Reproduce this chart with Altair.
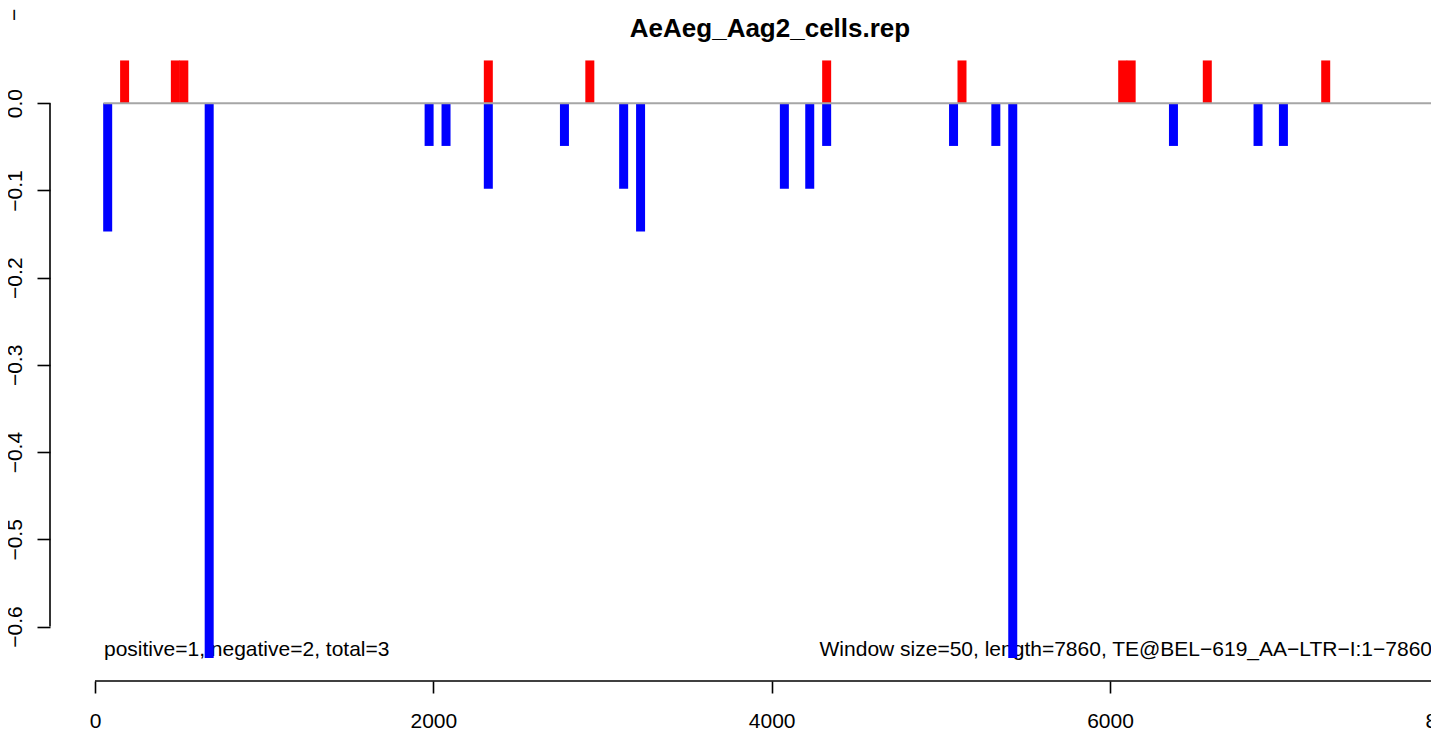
import altair as alt
import pandas as pd

# ---------------- data ----------------
title_text = "AeAeg_Aag2_cells.rep"
left_note = "positive=1, negative=2, total=3"
right_note = "Window size=50, length=7860, TE@BEL\u2212619_AA\u2212LTR\u2212I:1\u22127860"
cut_label = "\u22120.7"

pos_centers = [175, 475, 525, 2325, 2925, 4325, 5125, 6075, 6125, 6575, 7275]
pos_values = [0.049, 0.049, 0.049, 0.049, 0.049, 0.049, 0.049, 0.049, 0.049, 0.049, 0.049]

neg_centers = [75, 675, 1975, 2075, 2325, 2775, 3125, 3225, 4075, 4225, 4325,
               5075, 5325, 5425, 6375, 6875, 7025]
neg_values = [-0.147, -0.636, -0.049, -0.049, -0.098, -0.049, -0.098, -0.147, -0.098,
              -0.098, -0.049, -0.049, -0.049, -0.636, -0.049, -0.049, -0.049]

x_ticks = [0, 2000, 4000, 6000, 8000]
y_ticks = [0.0, -0.1, -0.2, -0.3, -0.4, -0.5, -0.6]
baseline_x = [50, 7900]

FONT = "Liberation Sans"
W, H = 1436, 671

bars = pd.DataFrame({
    "pos": pos_centers + neg_centers,
    "val": pos_values + neg_values,
    "sign": ["pos"] * len(pos_centers) + ["neg"] * len(neg_centers),
})
base_df = pd.DataFrame({"x": [baseline_x[0]], "x2": [baseline_x[1]]})
xaxis_df = pd.DataFrame({"x": [x_ticks[0]], "x2": [x_ticks[-1]]})
yaxis_df = pd.DataFrame({"y": [y_ticks[0]], "y2": [y_ticks[-1]]})

xscale = alt.Scale(domain=[-266, 8222.5], nice=False, zero=False)
yscale = alt.Scale(domain=[-0.66239, 0.10684], nice=False, zero=False)

xaxis = alt.Axis(values=x_ticks, format="d", domain=False, grid=False, title=None,
                 tickSize=12, tickColor="black", tickWidth=1.6,
                 labelFont=FONT, labelFontSize=21, labelColor="black",
                 labelPadding=17, labelFlush=False, labelOverlap=False)
yaxis = alt.Axis(values=y_ticks, format=".1f", domain=False, grid=False, title=None,
                 tickSize=13, tickColor="black", tickWidth=1.6,
                 labelFont=FONT, labelFontSize=21, labelColor="black",
                 labelAngle=270, labelAlign="center", labelBaseline="alphabetic",
                 labelPadding=16, labelFlush=False, labelOverlap=False)

notes = alt.Chart(pd.DataFrame({"t": [left_note]})).mark_text(
    font=FONT, fontSize=21, align="left", baseline="alphabetic", color="black"
).encode(text="t:N", x=alt.value(54), y=alt.value(645.6))

notes_r = alt.Chart(pd.DataFrame({"t": [right_note]})).mark_text(
    font=FONT, fontSize=21, align="right", baseline="alphabetic", color="black"
).encode(text="t:N", x=alt.value(1382), y=alt.value(645.6))

title = alt.Chart(pd.DataFrame({"t": [title_text]})).mark_text(
    font=FONT, fontSize=26, fontWeight="bold", align="center",
    baseline="alphabetic", color="black"
).encode(text="t:N", x=alt.value(720), y=alt.value(26.7))

cut = alt.Chart(pd.DataFrame({"t": [cut_label]})).mark_text(
    font=FONT, fontSize=21, align="center", baseline="alphabetic",
    angle=270, color="black"
).encode(text="t:N", x=alt.value(-29.3), y=alt.value(-9.7))

bar_layer = alt.Chart(bars).mark_rule(strokeWidth=9, strokeCap="butt").encode(
    x=alt.X("pos:Q", scale=xscale, axis=xaxis),
    y=alt.Y("val:Q", scale=yscale, axis=yaxis),
    y2=alt.datum(0),
    color=alt.Color("sign:N", scale=alt.Scale(domain=["pos", "neg"],
                                              range=["#ff0000", "#0000ff"]),
                    legend=None),
)

baseline = alt.Chart(base_df).mark_rule(color="#a6a6a6", strokeWidth=2).encode(
    x=alt.X("x:Q", scale=xscale), x2="x2:Q", y=alt.datum(0)
)

x_domain = alt.Chart(xaxis_df).mark_rule(color="black", strokeWidth=1.6).encode(
    x=alt.X("x:Q", scale=xscale), x2="x2:Q", y=alt.value(H)
)
y_domain = alt.Chart(yaxis_df).mark_rule(color="black", strokeWidth=1.6).encode(
    y=alt.Y("y:Q", scale=yscale), y2="y2:Q", x=alt.value(0)
)

chart = alt.layer(notes, notes_r, bar_layer, baseline, x_domain, y_domain, title, cut).properties(
    width=W, height=H,
    padding={"left": 42, "top": 2, "right": -55, "bottom": 48},
    autosize=alt.AutoSizeParams(type="none"),
    background="white",
).configure_view(stroke=None)

chart.save("out.html", embed_options={"renderer": "svg", "actions": False})
